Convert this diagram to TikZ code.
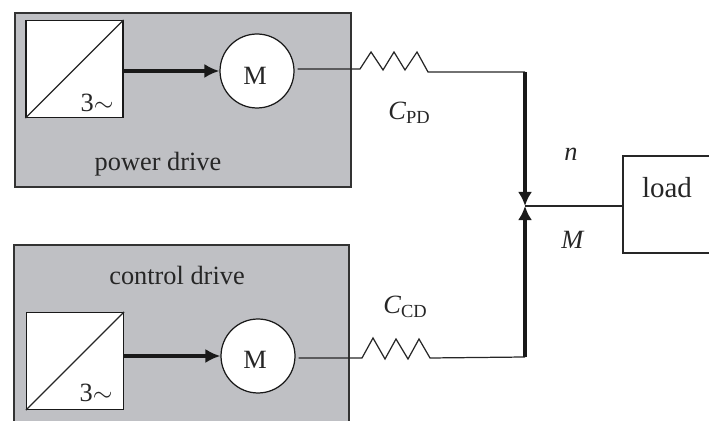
\documentclass[tikz,border=0pt]{standalone}
\usepackage{fontspec}
\setmainfont{Liberation Serif}
\usetikzlibrary{arrows.meta}

\definecolor{gray_drive}{RGB}{191,192,196}

\tikzset{
    drive_box/.style={draw=black!80, fill=gray_drive, line width=0.7pt, inner sep=0pt},
    conv_box/.style={draw=black!90, fill=white, line width=0.7pt, inner sep=0pt, minimum size=1.94cm},
    motor_node/.style={circle, draw=black!90, fill=white, line width=0.7pt, inner sep=0pt, minimum size=1.48cm},
    label_node/.style={inner sep=0pt, text=black!85, font=\fontsize{15}{18}\selectfont},
    power_arrow/.style={line width=2pt, black!90, -{Latex[length=8.5pt,width=8pt]}},
    thin_line/.style={line width=0.7pt, black!85},
    thick_line/.style={line width=1.9pt, black!90}
}
\newcommand{\subtxt}[1]{\raisebox{-0.3ex}{\fontsize{10.5}{12}\selectfont #1}}

\begin{document}
\begin{tikzpicture}[x=0.02cm, y=-0.02cm]

\useasboundingbox (0,0) rectangle (709,421);

% power drive
\node[drive_box, minimum width=6.72cm, minimum height=3.48cm] (pd_box) at (183,100) {};
\node[conv_box] (pd_conv) at (74.5,69) {};
\draw[thin_line] (pd_conv.south west) -- (pd_conv.north east);
\node[motor_node] (pd_motor) at (257,71) {};
\node[label_node] (pd_m) at (255,76) {M};
\node[label_node] (pd_three) at (97,103) {3$\sim$};
\node[label_node] (pd_text) at (158,164) {power drive};
\draw[power_arrow] (pd_conv.east |- pd_motor) -- (pd_motor.west);

% control drive
\node[drive_box, minimum width=6.7cm, minimum height=3.9cm] (cd_box) at (181.5,342.5) {};
\node[conv_box] (cd_conv) at (75,361) {};
\draw[thin_line] (cd_conv.south west) -- (cd_conv.north east);
\node[motor_node] (cd_motor) at (258,356) {};
\node[label_node] (cd_m) at (255,360) {M};
\node[label_node] (cd_three) at (96,393) {3$\sim$};
\node[label_node] (cd_text) at (177,275) {control drive};
\draw[power_arrow] (cd_conv.east |- cd_motor) -- (cd_motor.west);

% load
\node[draw=black!85, line width=0.7pt, inner sep=0pt, minimum width=2.14cm, minimum height=1.94cm] (load_box) at (676.5,204.5) {};
\node[label_node, font=\fontsize{16.5}{18}\selectfont] (load_text) at (667,188) {load};

% springs
\coordinate (pd_in) at (360,69);
\coordinate (pd_top) at (525,72);
\coordinate (cd_in) at (362,358);
\coordinate (cd_bot) at (525,357);
\coordinate (shaft) at (525,206);

\draw[thin_line, shorten <=1.7pt] (pd_motor.east |- pd_in) -- (pd_in)
  -- ++(11,-17) -- ++(12,18) -- ++(11,-18) -- ++(11,18) -- ++(12,-18) -- ++(11,20) -- (pd_top);
\draw[thin_line, shorten <=1.7pt] (cd_motor.east |- cd_in) -- (cd_in)
  -- ++(11,-20) -- ++(12,21) -- ++(11,-20) -- ++(12,20) -- ++(11,-20) -- ++(11,19) -- (cd_bot);

% shaft
\draw[thick_line, -{Latex[length=8pt,width=8pt]}] (pd_top) -- (shaft);
\draw[thick_line, -{Latex[length=8pt,width=8pt]}] (cd_bot) -- (shaft);
\draw[thin_line] (shaft) -- (load_box.west |- shaft);

% labels
\node[label_node] (c_pd) at (409,113) {\textit{C}\subtxt{PD}};
\node[label_node] (c_cd) at (405,307) {\textit{C}\subtxt{CD}};
\node[label_node] (n_text) at (571,154) {\textit{n}};
\node[label_node] (m_text) at (573,240) {\textit{M}};

\end{tikzpicture}
\end{document}
